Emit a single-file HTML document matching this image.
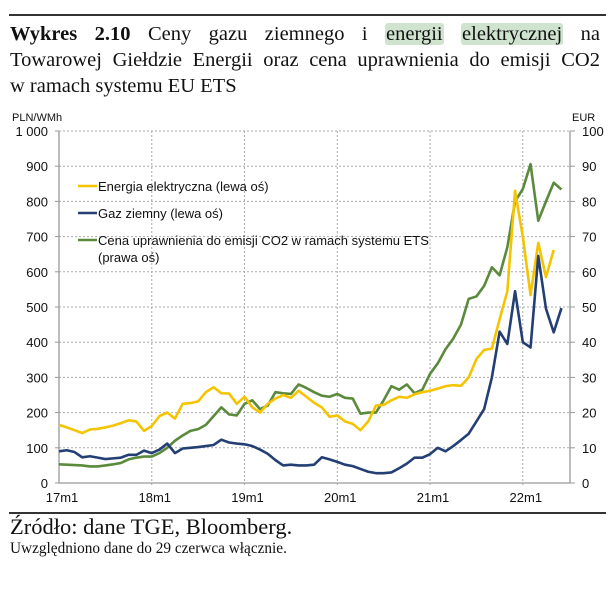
<!DOCTYPE html>
<html><head><meta charset="utf-8"><style>
body{margin:0;background:#fff;width:616px;height:591px;overflow:hidden;position:relative}
.t{position:absolute;font-family:"Liberation Serif",serif;color:#111}
.hl{background:#cfe3cf;border-radius:3px;padding:0 1px}
.tl{position:absolute;left:10px;width:590px;font-family:"Liberation Serif",serif;color:#111;font-size:20.5px;line-height:26px;white-space:nowrap}
.j{text-align:justify;text-align-last:justify;white-space:normal}
</style></head><body>
<div style="position:absolute;left:9px;top:14px;width:597px;height:2px;background:#333"></div>
<div class="tl j" style="top:21px"><b>Wykres 2.10</b> Ceny gazu ziemnego i <span class="hl">energii</span> <span class="hl">elektrycznej</span> na</div>
<div class="tl j" style="top:47px">Towarowej Giełdzie Energii oraz cena uprawnienia do emisji CO2</div>
<div class="tl" style="top:73px">w ramach systemu EU ETS</div>
<svg id="c" width="616" height="591" style="position:absolute;left:0;top:0" font-family="Liberation Sans, sans-serif"></svg>
<div style="position:absolute;left:9px;top:512px;width:597px;height:2px;background:#333"></div>
<div class="t" style="left:10px;top:514px;font-size:22.5px">Źródło: dane TGE, Bloomberg.</div>
<div class="t" style="left:10px;top:540px;font-size:15.3px">Uwzględniono dane do 29 czerwca włącznie.</div>
<script>
const yTicks=[0,100,200,300,400,500,600,700,800,900,1000];
const yTickLabels=["0","100","200","300","400","500","600","700","800","900","1 000"];
const y2TickLabels=["0","10","20","30","40","50","60","70","80","90","100"];
const xLabels=["17m1","18m1","19m1","20m1","21m1","22m1"];
const energy=[165,158,150,142,152,154,158,163,170,178,175,148,162,190,200,183,225,227,232,258,272,255,254,225,245,215,200,225,240,250,242,262,245,228,215,188,192,175,168,150,175,220,222,235,245,242,252,258,262,268,275,278,276,300,352,378,382,465,545,830,700,534,682,585,662];
const gas=[90,93,88,73,76,72,68,70,72,80,80,92,85,95,112,85,98,100,102,105,108,123,115,112,110,105,95,83,65,50,52,50,50,52,73,67,60,52,48,40,32,28,28,30,42,55,72,72,82,100,90,105,122,140,175,210,300,430,395,545,400,385,645,495,428,497];
const co2=[5.3,5.2,5.1,5.0,4.7,4.7,5.0,5.3,5.7,6.7,7.2,7.5,7.5,8.5,10,12,13.5,14.8,15.3,16.5,19,21.5,19.5,19.2,22.5,23.5,21,22,25.8,25.5,25.3,28,27,25.8,24.8,24.5,25.3,24.2,24,19.7,20,20,23.5,27.5,26.5,28,25.5,26.5,31,34,38,41,45,52.3,53,56,61.3,59,67,80,83.5,90.6,74.5,80,85.3,83.4];
const X0=59,MW=7.73,Y0=483,YS=0.352;
const xs=m=>X0+m*MW, ys=v=>Y0-v*YS, ys2=v=>Y0-v*10*YS;
const svg=document.getElementById('c');const NS='http://www.w3.org/2000/svg';
function mk(t,a){const e=document.createElementNS(NS,t);for(const k in a)e.setAttribute(k,a[k]);svg.appendChild(e);return e;}
yTicks.forEach((v,i)=>{
 if(v>0){const g=mk('line',{x1:X0,x2:570,y1:ys(v),y2:ys(v),stroke:'#aaa','stroke-dasharray':'2,2'});
 
 }
 const a=mk('text',{x:48,y:ys(v)+5,'text-anchor':'end','font-size':13,fill:'#111'});a.textContent=yTickLabels[i];
 
 
 const b=mk('text',{x:582,y:ys(v)+5,'font-size':13,fill:'#111'});b.textContent=y2TickLabels[i];
 
 
 const tk=mk('line',{x1:570,x2:575,y1:ys(v),y2:ys(v),stroke:'#999'});
 
 
 const tk2=mk('line',{x1:55,x2:X0,y1:ys(v),y2:ys(v),stroke:'#999'});
 
 
});
xLabels.forEach((l,i)=>{const x=xs(i*12);
 if(i>0){const g=mk('line',{x1:x,x2:x,y1:ys(1000),y2:Y0+4,stroke:'#aaa','stroke-dasharray':'2,2'});
 
 }
 const t=mk('text',{x:x+3,y:502,'text-anchor':'middle','font-size':13,fill:'#111'});t.textContent=l;
 
 });
const ax=mk('line',{x1:X0,x2:X0,y1:ys(1000),y2:Y0,stroke:'#999','stroke-width':1.3});


const ax2=mk('line',{x1:570,x2:570,y1:ys(1000),y2:Y0,stroke:'#999','stroke-width':1.3});


const ax3=mk('line',{x1:X0,x2:570,y1:Y0,y2:Y0,stroke:'#999','stroke-width':1.3});


const u1=mk('text',{x:12,y:121,'font-size':11,fill:'#111'});u1.textContent='PLN/WMh';


const u2=mk('text',{x:572,y:121,'font-size':11,fill:'#111'});u2.textContent='EUR';


function line(d,f,c,n){const p=mk('polyline',{points:d.map((v,i)=>xs(i)+','+f(v)).join(' '),fill:'none',stroke:c,'stroke-width':2.6,'stroke-linejoin':'round'});
 
 }
line(co2,ys2,'#5b8a3c','co2-line');
line(energy,ys,'#f5c400','energy-line');
line(gas,ys,'#233f73','gas-line');
const leg=[['Energia elektryczna (lewa oś)','#f5c400',186],['Gaz ziemny (lewa oś)','#233f73',213],['Cena uprawnienia do emisji CO2 w ramach systemu ETS','#5b8a3c',240]];
leg.forEach(([t,c,y])=>{const l=mk('line',{x1:78,x2:97,y1:y,y2:y,stroke:c,'stroke-width':2.6});
 
 
 const tx=mk('text',{x:98,y:y+5,'font-size':13,fill:'#111'});tx.textContent=t;
 
 });
const tx=mk('text',{x:98,y:262,'font-size':13,fill:'#111'});tx.textContent='(prawa oś)';


</script>
</body></html>
